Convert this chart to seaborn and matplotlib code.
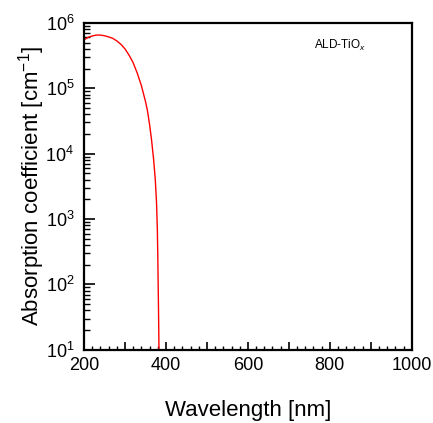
import numpy as np
import pandas as pd
import matplotlib
matplotlib.use("Agg")
import matplotlib.pyplot as plt
import seaborn as sns
from matplotlib.ticker import MultipleLocator, FuncFormatter, LogLocator

### Data
wavelength = [200, 210, 220, 230, 240, 250, 260, 270, 280, 290, 300, 310, 320,
              330, 340, 350, 355, 360, 365, 370, 374, 377, 379, 380, 381, 382, 383]
alpha = [5.5e5, 6.0e5, 6.3e5, 6.5e5, 6.5e5, 6.35e5, 6.1e5, 5.8e5, 5.3e5, 4.7e5,
         4.0e5, 3.2e5, 2.45e5, 1.7e5, 1.1e5, 6.3e4, 4.5e4, 2.8e4, 1.6e4, 8e3,
         4e3, 1.8e3, 7e2, 3e2, 1e2, 3.5e1, 1e1]
sample_label = "ALD-TiO$_{\\mathit{x}}$"

df = pd.DataFrame({"wavelength": wavelength, "alpha": alpha})

sns.set_theme(style="ticks")
plt.rcParams["font.family"] = ["Liberation Sans", "DejaVu Sans"]
plt.rcParams["mathtext.fontset"] = "custom"
plt.rcParams["mathtext.rm"] = "Liberation Sans"
plt.rcParams["mathtext.it"] = "Liberation Sans:italic"
plt.rcParams["text.color"] = "black"
plt.rcParams["axes.labelcolor"] = "black"

fig = plt.figure(figsize=(4.33, 4.23), dpi=100)
ax = fig.add_axes([0.194, 0.173, 0.757, 0.773])

sns.lineplot(data=df, x="wavelength", y="alpha", color="red", lw=1.0, ax=ax,
             estimator=None, sort=False)

ax.set_yscale("log")
ax.set_xlim(200, 1000)
ax.set_ylim(1e1, 1e6)

ax.xaxis.set_major_locator(MultipleLocator(100))
ax.xaxis.set_minor_locator(MultipleLocator(20))
ax.xaxis.set_major_formatter(FuncFormatter(lambda v, p: f"{int(v)}" if int(v) % 200 == 0 else ""))
ax.yaxis.set_major_locator(LogLocator(base=10, numticks=10))
ax.yaxis.set_minor_locator(LogLocator(base=10, subs=np.arange(2, 10), numticks=20))

ax.tick_params(which="major", direction="in", length=6, width=1.2, labelsize=13,
               colors="black", pad=5)
ax.tick_params(which="minor", direction="in", length=3, width=1.0, colors="black")
ax.tick_params(axis="y", which="major", length=8, pad=7)
ax.tick_params(axis="y", which="minor", length=4)

for s in ax.spines.values():
    s.set_linewidth(1.6)
    s.set_color("black")

ax.set_xlabel("Wavelength [nm]", fontsize=16, labelpad=19)
ax.set_ylabel("Absorption coefficient [cm$^{-1}$]", fontsize=16)
ax.yaxis.set_label_coords(-0.113, 0.5)

ax.text(0.78, 0.932, sample_label, transform=ax.transAxes, ha="center", va="center",
        fontsize=8.5, color="black")

fig.savefig("out.png", dpi=100)
